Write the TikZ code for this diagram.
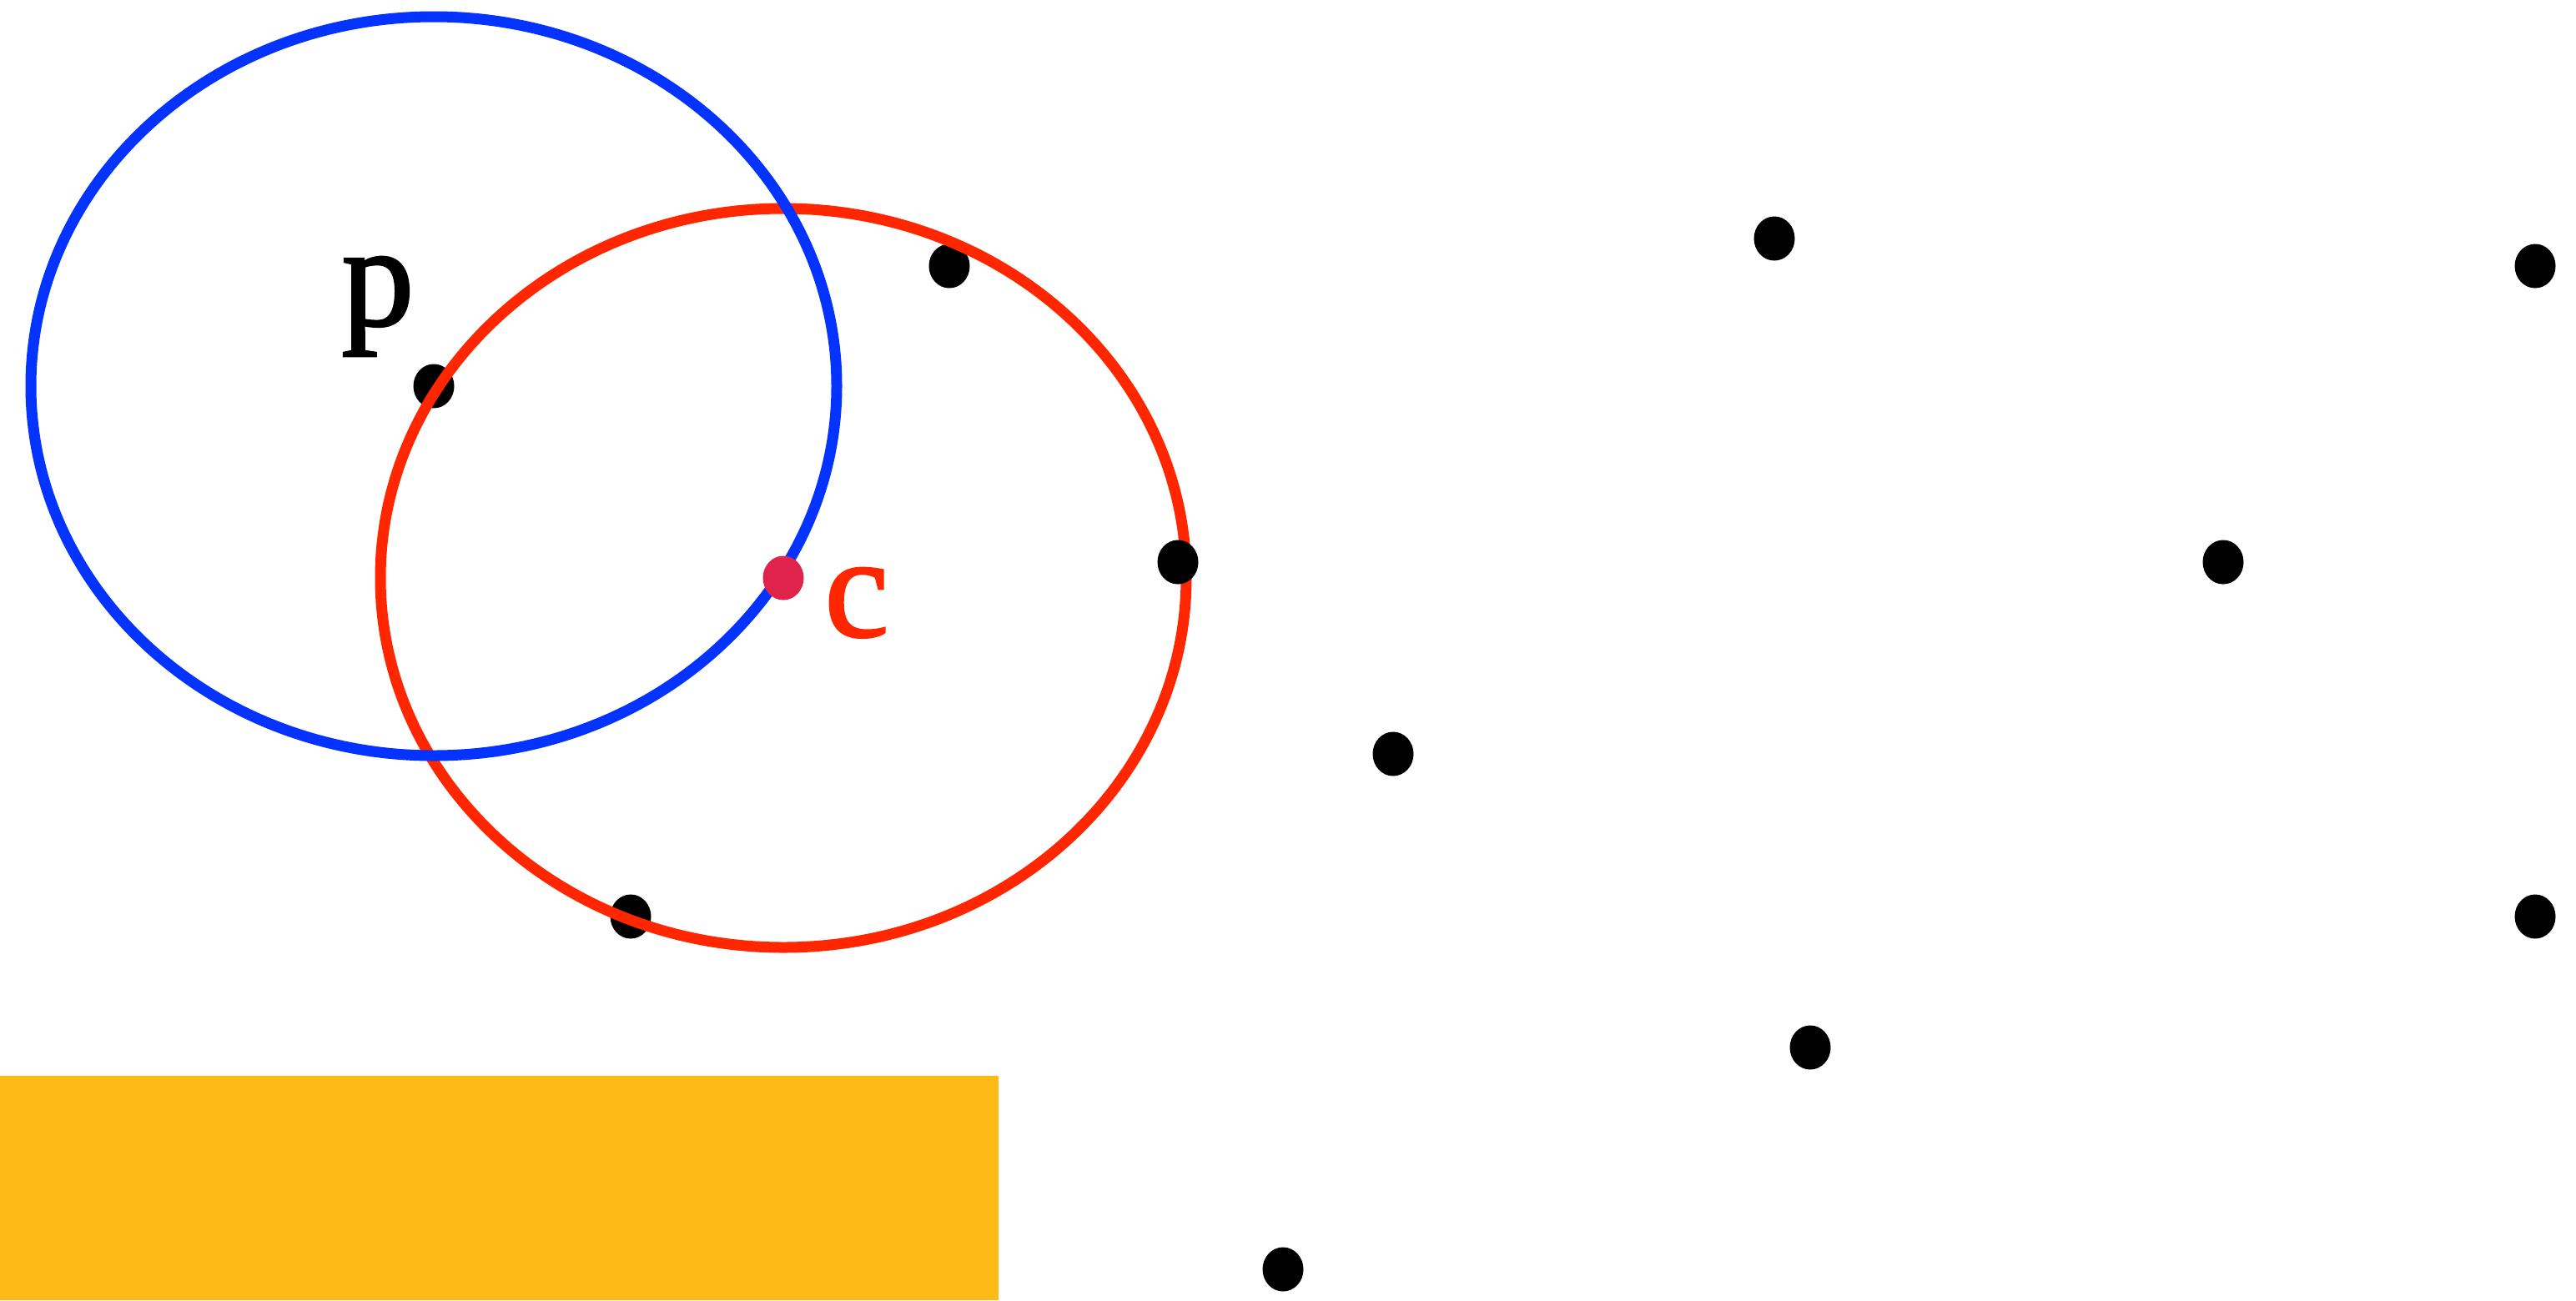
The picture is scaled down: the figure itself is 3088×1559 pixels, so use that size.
\documentclass[tikz,border=0pt]{standalone}
\usepackage{fontspec}
\setmainfont{Liberation Serif}
\newfontfamily\lblfont[FakeBold=1.6]{Liberation Serif}
\usetikzlibrary{shapes.geometric}
\definecolor{cblue}{HTML}{0433FF}
\definecolor{cred}{HTML}{FF2600}
\definecolor{ccrim}{HTML}{E0234B}
\definecolor{corange}{HTML}{FEBB18}
\tikzset{
  dot/.style={ellipse, fill=black, minimum width=49pt, minimum height=53pt, inner sep=0pt},
  cdot/.style={dot, fill=ccrim},
  ring/.style={line width=13pt},
  lbl/.style={font=\lblfont\fontsize{174}{200}\selectfont, inner sep=0pt, anchor=base}
}
\begin{document}
\begin{tikzpicture}[x=1pt,y=-1pt]
\useasboundingbox (0,0) rectangle (3088,1559);
\fill[white] (0,0) rectangle (3088,1559);
\fill[corange] (0,1290) rectangle (1197,1559);
\node[dot] (p) at (520,463) {};
\node[dot] (d2) at (1138,319) {};
\node[dot] (d3) at (2127,286) {};
\node[dot] (d4) at (3039,319) {};
\node[dot] (d6) at (2665,674) {};
\node[dot] (d7) at (1670,904) {};
\node[dot] (d8) at (756,1099) {};
\node[dot] (d9) at (3039,1099) {};
\node[dot] (d10) at (2170,1256) {};
\node[dot] (d11) at (1538,1522) {};
\draw[ring, cred] (939,693) ellipse [x radius=483pt, y radius=443pt];
\draw[ring, cblue] (p.center) ellipse [x radius=483pt, y radius=443pt];
\node[dot] (d5) at (1412,674) {};
\node[cdot] (c) at (939,693) {};
\node[lbl] (plbl) at (453,390) {p};
\node[lbl, text=cred] (clbl) at (1027,763) {c};
\end{tikzpicture}
\end{document}
